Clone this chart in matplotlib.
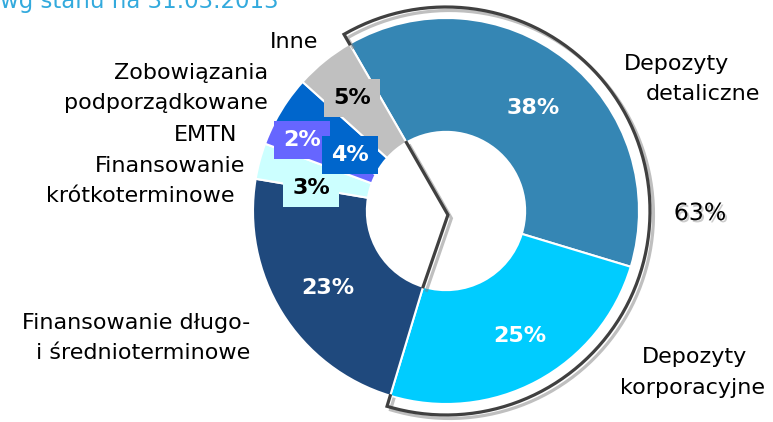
import numpy as np
import matplotlib
matplotlib.use("Agg")
import matplotlib.pyplot as plt
import matplotlib.patheffects as pe

# Data
labels = ["Depozyty\ndetaliczne", "Depozyty\nkorporacyjne", "Finansowanie długo-\ni średnioterminowe",
          "Finansowanie\nkrótkoterminowe", "EMTN", "Zobowiązania\npodporządkowane", "Inne"]
values = [38, 25, 23, 3, 2, 4, 5]
pct_labels = ["38%", "25%", "23%", "3%", "2%", "4%", "5%"]
colors = ["#3586B4", "#00CCFF", "#1F497D", "#CCFFFF", "#6666FF", "#0066CC", "#C0C0C0"]
deposit_share = "63%"
title = "wg stanu na 31.03.2013"

plt.rcParams['font.family'] = ['DejaVu Sans']

W, H = 773, 422
cx, cy, R = 446, 211, 193.0

fig = plt.figure(figsize=(W / 100, H / 100), dpi=100)
ax = fig.add_axes([0, 0, 1, 1])

start = 120
ax.pie(values, colors=colors, startangle=start, counterclock=False, radius=1,
       wedgeprops=dict(width=0.59, edgecolor="white", linewidth=1.5))
ax.set_xlim(-cx / R, (W - cx) / R)
ax.set_ylim(-(H - cy) / R, cy / R)
ax.set_aspect("equal")
ax.axis("off")


def px(x, y):
    # pixel position -> data coords
    return (x - cx) / R, (cy - y) / R


# bracket around the deposits
end = start - sum(values[:2]) / sum(values) * 360
shadow = [pe.SimpleLineShadow(offset=(2.5, -2.5), shadow_color="gray", alpha=0.5), pe.Normal()]
th = np.radians(np.linspace(start, end, 300))
rb = 1.057
bx = np.concatenate([[1.0 * np.cos(th[0])], rb * np.cos(th), [1.0 * np.cos(th[-1])]])
by = np.concatenate([[1.0 * np.sin(th[0])], rb * np.sin(th), [1.0 * np.sin(th[-1])]])
ax.plot(bx, by, color="#404040", lw=2.3, solid_joinstyle="miter", path_effects=shadow, zorder=3)
ri = 0.41
a0, a1 = np.radians(start), np.radians(end)
ax.plot([ri * np.cos(a0), 0.01, ri * np.cos(a1)], [ri * np.sin(a0), -0.02, ri * np.sin(a1)],
        color="#404040", lw=2.3, solid_joinstyle="miter", path_effects=shadow, zorder=3)

# category labels, one line at a time: (x, y, ha) per line in pixels
fs = 16
line_pos = [
    [(676, 64, "center"), (703, 94, "center")],
    [(695, 357, "center"), (765, 388, "right")],
    [(250, 323, "right"), (250, 353, "right")],
    [(245, 166, "right"), (234, 196, "right")],
    [(237, 135, "right")],
    [(268, 73, "right"), (268, 103, "right")],
    [(318, 42, "right")],
]
for lab, pos in zip(labels, line_pos):
    for line, (x, y, ha) in zip(lab.split("\n"), pos):
        ax.text(*px(x, y), line, ha=ha, va="center", fontsize=fs)

# percentage labels
pfs = 16
ax.text(*px(533, 108), pct_labels[0], ha="center", va="center", fontsize=pfs, fontweight="bold", color="white")
ax.text(*px(520, 336), pct_labels[1], ha="center", va="center", fontsize=pfs, fontweight="bold", color="white")
ax.text(*px(328, 288), pct_labels[2], ha="center", va="center", fontsize=pfs, fontweight="bold", color="white")
box_labels = [(3, (311, 188), "black"), (4, (302, 140), "white"), (5, (350, 155), "white"), (6, (352, 98), "black")]
for i, (x, y), c in box_labels:
    ax.text(*px(x, y), pct_labels[i], ha="center", va="center", fontsize=pfs, fontweight="bold", color=c,
            zorder=4, bbox=dict(boxstyle="square,pad=0.4", facecolor=colors[i], edgecolor="none"))

ax.text(*px(700, 213), deposit_share, ha="center", va="center", fontsize=17, color="black",
        path_effects=[pe.withSimplePatchShadow(offset=(1.5, -1.5), shadow_rgbFace="gray", alpha=0.4)])

fig.text(0.0, 1 - 8 / H, title, ha="left", va="baseline", fontsize=16.5, color="#33AADD")

fig.savefig("out.png", dpi=100)
